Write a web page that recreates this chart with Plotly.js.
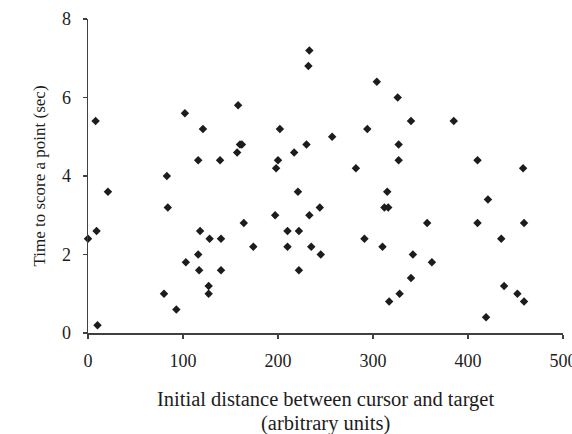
<!DOCTYPE html>
<html>
<head>
<meta charset="utf-8">
<script src="https://cdn.plot.ly/plotly-3.0.1.min.js"></script>
<style>
  html, body { margin: 0; padding: 0; background: #fff; }
  #chart { width: 572px; height: 434px; }
</style>
</head>
<body>
<div id="chart"></div>
<script>
// Initial cursor–target distance (arbitrary units) for each trial
const distance = [
  0, 9, 8, 10, 21, 83, 84, 80, 93, 103,
  102, 116, 117, 118, 121, 116, 128, 127, 127, 140,
  140, 139, 158, 157, 160, 162, 164, 174, 197, 202,
  200, 198, 210, 210, 233, 232, 304, 326, 340, 385,
  294, 257, 230, 217, 327, 327, 282, 410, 458, 221,
  315, 312, 316, 244, 233, 421, 357, 410, 459, 222,
  235, 245, 222, 291, 310, 342, 362, 340, 328, 317,
  435, 438, 452, 459, 419
];

// Time taken to score the point (seconds) for the same trials
const timeSec = [
  2.4, 2.6, 5.4, 0.2, 3.6, 4.0, 3.2, 1.0, 0.6, 1.8,
  5.6, 2.0, 1.6, 2.6, 5.2, 4.4, 2.4, 1.2, 1.0, 2.4,
  1.6, 4.4, 5.8, 4.6, 4.8, 4.8, 2.8, 2.2, 3.0, 5.2,
  4.4, 4.2, 2.6, 2.2, 7.2, 6.8, 6.4, 6.0, 5.4, 5.4,
  5.2, 5.0, 4.8, 4.6, 4.8, 4.4, 4.2, 4.4, 4.2, 3.6,
  3.6, 3.2, 3.2, 3.2, 3.0, 3.4, 2.8, 2.8, 2.8, 2.6,
  2.2, 2.0, 1.6, 2.4, 2.2, 2.0, 1.8, 1.4, 1.0, 0.8,
  2.4, 1.2, 1.0, 0.8, 0.4
];

const xTicks = [0, 100, 200, 300, 400, 500];
const yTicks = [0, 2, 4, 6, 8];

const xTitleLines = ['Initial distance between cursor and target', '(arbitrary units)'];
const yTitle = 'Time to score a point (sec)';

const serif = 'Liberation Serif, Times New Roman, serif';
const ink = '#1c1c1c';
const axisInk = '#404040';

const trace = {
  type: 'scatter',
  mode: 'markers',
  x: distance,
  y: timeSec,
  cliponaxis: false,
  marker: { symbol: 'diamond', size: 6.5, color: ink, line: { width: 0 } },
  hoverinfo: 'x+y'
};

const layout = {
  width: 572,
  height: 434,
  margin: { l: 88, r: 9, t: 19, b: 101 },
  paper_bgcolor: '#ffffff',
  plot_bgcolor: '#ffffff',
  showlegend: false,
  font: { family: serif, color: ink, size: 18 },
  xaxis: {
    range: [0, 500],
    tickvals: xTicks,
    ticktext: xTicks.map(String),
    ticklabeloverflow: 'allow',
    showgrid: false,
    zeroline: false,
    showline: true,
    linecolor: axisInk,
    linewidth: 1.5,
    ticks: 'outside',
    ticklen: 4,
    tickwidth: 1.5,
    tickcolor: axisInk,
    ticklabelstandoff: 7,
    tickfont: { family: serif, size: 18, color: ink }
  },
  yaxis: {
    range: [0, 8],
    tickvals: yTicks,
    ticktext: yTicks.map(String),
    ticklabeloverflow: 'allow',
    showgrid: false,
    zeroline: false,
    showline: true,
    linecolor: axisInk,
    linewidth: 1.5,
    ticks: 'outside',
    ticklen: 4,
    tickwidth: 1.5,
    tickcolor: axisInk,
    ticklabelstandoff: 8,
    tickfont: { family: serif, size: 18, color: ink },
    title: { text: yTitle, font: { family: serif, size: 17, color: ink }, standoff: 12 }
  },
  annotations: [
    {
      text: xTitleLines[0], xref: 'paper', yref: 'paper',
      x: 0.5, y: -66 / 314, xanchor: 'center', yanchor: 'middle',
      showarrow: false, font: { family: serif, size: 20.5, color: ink }
    },
    {
      text: xTitleLines[1], xref: 'paper', yref: 'paper',
      x: 0.5, y: -90 / 314, xanchor: 'center', yanchor: 'middle',
      showarrow: false, font: { family: serif, size: 20.5, color: ink }
    }
  ]
};

Plotly.newPlot('chart', [trace], layout, { staticPlot: true, displayModeBar: false });
</script>
</body>
</html>
